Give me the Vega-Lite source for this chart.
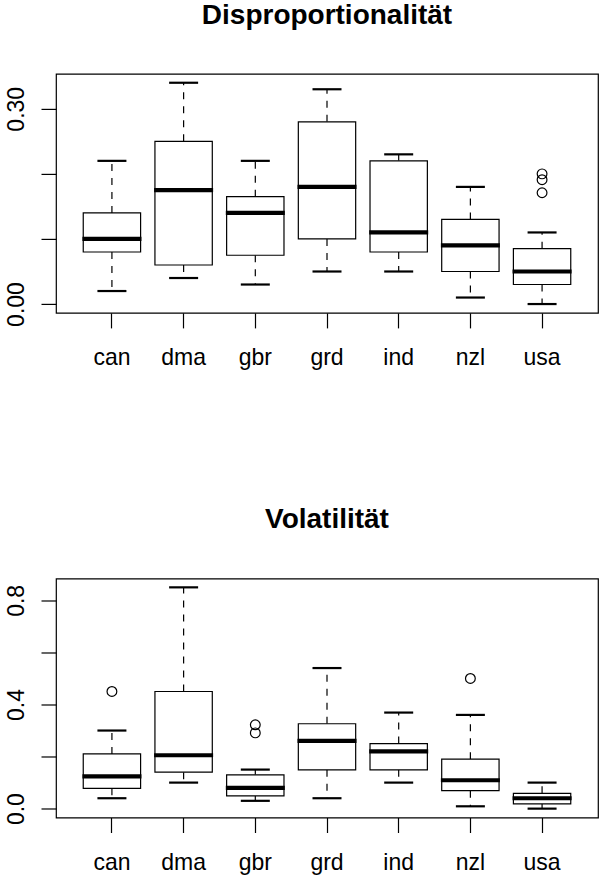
{
  "$schema": "https://vega.github.io/schema/vega-lite/v6.json",
  "padding": {"left": 4.0, "top": 0.9, "right": 0, "bottom": 0},
  "background": "white",
  "bounds": "flush",
  "spacing": 265.6,
  "datasets": {
    "disp": [
      {"land": "can", "lower": 0.02, "q1": 0.08, "median": 0.10, "q3": 0.14, "upper": 0.22},
      {"land": "dma", "lower": 0.04, "q1": 0.06, "median": 0.175, "q3": 0.25, "upper": 0.34},
      {"land": "gbr", "lower": 0.03, "q1": 0.075, "median": 0.14, "q3": 0.165, "upper": 0.22},
      {"land": "grd", "lower": 0.05, "q1": 0.10, "median": 0.18, "q3": 0.28, "upper": 0.33},
      {"land": "ind", "lower": 0.05, "q1": 0.08, "median": 0.11, "q3": 0.22, "upper": 0.23},
      {"land": "nzl", "lower": 0.01, "q1": 0.05, "median": 0.09, "q3": 0.13, "upper": 0.18},
      {"land": "usa", "lower": 0.0, "q1": 0.03, "median": 0.05, "q3": 0.085, "upper": 0.11}
    ],
    "disp_out": [
      {"land": "usa", "value": 0.20},
      {"land": "usa", "value": 0.191},
      {"land": "usa", "value": 0.171}
    ],
    "vol": [
      {"land": "can", "lower": 0.04, "q1": 0.078, "median": 0.124, "q3": 0.21, "upper": 0.30},
      {"land": "dma", "lower": 0.10, "q1": 0.14, "median": 0.205, "q3": 0.45, "upper": 0.85},
      {"land": "gbr", "lower": 0.03, "q1": 0.049, "median": 0.08, "q3": 0.13, "upper": 0.15},
      {"land": "grd", "lower": 0.04, "q1": 0.149, "median": 0.26, "q3": 0.326, "upper": 0.54},
      {"land": "ind", "lower": 0.10, "q1": 0.149, "median": 0.22, "q3": 0.25, "upper": 0.369},
      {"land": "nzl", "lower": 0.009, "q1": 0.069, "median": 0.109, "q3": 0.19, "upper": 0.36},
      {"land": "usa", "lower": 0.0, "q1": 0.018, "median": 0.04, "q3": 0.059, "upper": 0.10}
    ],
    "vol_out": [
      {"land": "can", "value": 0.45},
      {"land": "gbr", "value": 0.322},
      {"land": "gbr", "value": 0.291},
      {"land": "nzl", "value": 0.50}
    ]
  },
  "vconcat": [
    {
      "width": 542,
      "height": 239,
      "title": {"text": "Disproportionalität", "font": "Liberation Sans", "fontSize": 28, "fontWeight": "bold", "color": "black", "anchor": "middle", "frame": "group", "baseline": "alphabetic", "offset": 22.3},
      "encoding": {
        "x": {
          "field": "land", "type": "nominal",
          "scale": {"type": "band", "domain": ["can", "dma", "gbr", "grd", "ind", "nzl", "usa"], "paddingInner": 0.2, "paddingOuter": 0.38},
          "axis": {"title": null, "labelAngle": 0, "labelBaseline": "alphabetic", "labelPadding": 37}
        }
      },
      "layer": [
        {
          "data": {"name": "disp"},
          "mark": {"type": "rule", "color": "black", "strokeWidth": 1.2, "strokeDash": [7, 7]},
          "encoding": {
            "y": {"field": "q3", "type": "quantitative",
              "scale": {"domain": [-0.0136, 0.3536], "nice": false, "zero": false},
              "axis": {"title": null, "values": [0, 0.05, 0.1, 0.15, 0.2, 0.25, 0.3, 0.35], "format": ".2f",
                "labelExpr": "indexof(['0.00','0.15','0.30'], datum.label) >= 0 ? datum.label : ''",
                "labelAngle": -90, "labelAlign": "center", "labelBaseline": "alphabetic", "labelPadding": 18}},
            "y2": {"field": "upper"}
          }
        },
        {
          "data": {"name": "disp"},
          "mark": {"type": "rule", "color": "black", "strokeWidth": 1.2, "strokeDash": [7, 7]},
          "encoding": {
            "y": {"field": "q1", "type": "quantitative"},
            "y2": {"field": "lower"}
          }
        },
        {
          "data": {"name": "disp"},
          "mark": {"type": "tick", "color": "black", "opacity": 1, "size": 29, "thickness": 2.2},
          "encoding": {"y": {"field": "upper", "type": "quantitative"}}
        },
        {
          "data": {"name": "disp"},
          "mark": {"type": "tick", "color": "black", "opacity": 1, "size": 29, "thickness": 2.2},
          "encoding": {"y": {"field": "lower", "type": "quantitative"}}
        },
        {
          "data": {"name": "disp"},
          "mark": {"type": "bar", "fill": "white", "stroke": "black", "strokeWidth": 1.2, "opacity": 1},
          "encoding": {
            "y": {"field": "q1", "type": "quantitative"},
            "y2": {"field": "q3"}
          }
        },
        {
          "data": {"name": "disp"},
          "mark": {"type": "tick", "color": "black", "opacity": 1, "size": 59, "thickness": 4.2},
          "encoding": {"y": {"field": "median", "type": "quantitative"}}
        },
        {
          "data": {"name": "disp_out"},
          "mark": {"type": "point", "shape": "circle", "filled": false, "color": "black", "size": 95, "strokeWidth": 1.2, "opacity": 1},
          "encoding": {"y": {"field": "value", "type": "quantitative"}}
        }
      ]
    },
    {
      "width": 542,
      "height": 239,
      "title": {"text": "Volatilität", "font": "Liberation Sans", "fontSize": 28, "fontWeight": "bold", "color": "black", "anchor": "middle", "frame": "group", "baseline": "alphabetic", "offset": 22.3},
      "encoding": {
        "x": {
          "field": "land", "type": "nominal",
          "scale": {"type": "band", "domain": ["can", "dma", "gbr", "grd", "ind", "nzl", "usa"], "paddingInner": 0.2, "paddingOuter": 0.38},
          "axis": {"title": null, "labelAngle": 0, "labelBaseline": "alphabetic", "labelPadding": 37}
        }
      },
      "layer": [
        {
          "data": {"name": "vol"},
          "mark": {"type": "rule", "color": "black", "strokeWidth": 1.2, "strokeDash": [7, 7]},
          "encoding": {
            "y": {"field": "q3", "type": "quantitative",
              "scale": {"domain": [-0.034, 0.884], "nice": false, "zero": false},
              "axis": {"title": null, "values": [0, 0.2, 0.4, 0.6, 0.8], "format": ".1f",
                "labelExpr": "indexof(['0.0','0.4','0.8'], datum.label) >= 0 ? datum.label : ''",
                "labelAngle": -90, "labelAlign": "center", "labelBaseline": "alphabetic", "labelPadding": 18}},
            "y2": {"field": "upper"}
          }
        },
        {
          "data": {"name": "vol"},
          "mark": {"type": "rule", "color": "black", "strokeWidth": 1.2, "strokeDash": [7, 7]},
          "encoding": {
            "y": {"field": "q1", "type": "quantitative"},
            "y2": {"field": "lower"}
          }
        },
        {
          "data": {"name": "vol"},
          "mark": {"type": "tick", "color": "black", "opacity": 1, "size": 29, "thickness": 2.2},
          "encoding": {"y": {"field": "upper", "type": "quantitative"}}
        },
        {
          "data": {"name": "vol"},
          "mark": {"type": "tick", "color": "black", "opacity": 1, "size": 29, "thickness": 2.2},
          "encoding": {"y": {"field": "lower", "type": "quantitative"}}
        },
        {
          "data": {"name": "vol"},
          "mark": {"type": "bar", "fill": "white", "stroke": "black", "strokeWidth": 1.2, "opacity": 1},
          "encoding": {
            "y": {"field": "q1", "type": "quantitative"},
            "y2": {"field": "q3"}
          }
        },
        {
          "data": {"name": "vol"},
          "mark": {"type": "tick", "color": "black", "opacity": 1, "size": 59, "thickness": 4.2},
          "encoding": {"y": {"field": "median", "type": "quantitative"}}
        },
        {
          "data": {"name": "vol_out"},
          "mark": {"type": "point", "shape": "circle", "filled": false, "color": "black", "size": 95, "strokeWidth": 1.2, "opacity": 1},
          "encoding": {"y": {"field": "value", "type": "quantitative"}}
        }
      ]
    }
  ],
  "config": {
    "view": {"stroke": "black", "strokeWidth": 1.2},
    "axis": {
      "domain": false, "grid": false,
      "tickColor": "black", "tickSize": 15, "tickWidth": 1.2,
      "labelFont": "Liberation Sans", "labelFontSize": 23, "labelColor": "black",
      "labelOverlap": false, "labelFlush": false, "labelBound": false
    }
  }
}
